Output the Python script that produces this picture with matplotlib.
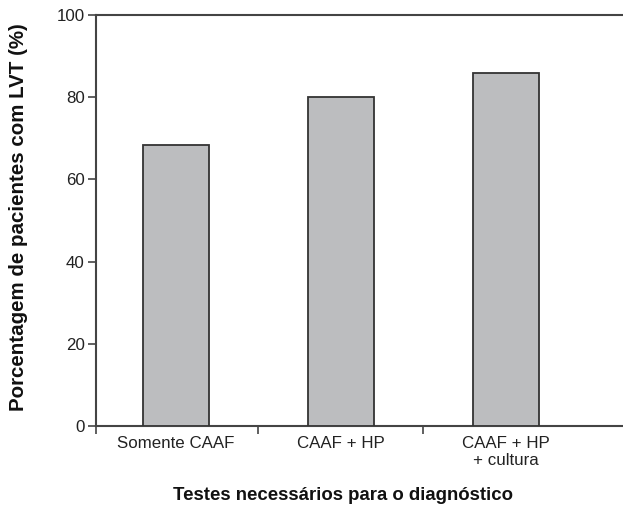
import matplotlib
matplotlib.use("Agg")
import matplotlib.pyplot as plt

categories = ["Somente CAAF", "CAAF + HP", "CAAF + HP\n+ cultura"]
values = [68.4, 80.0, 85.8]
yticks = [0, 20, 40, 60, 80, 100]

plt.rcParams['font.family'] = ['Liberation Sans', 'DejaVu Sans']

fig = plt.figure(figsize=(6.23, 5.12), dpi=100)
ax = fig.add_axes([0.154, 0.168, 0.846, 0.803])

x = list(range(len(categories)))
ax.bar(x, values, width=0.4, color="#bcbdbf", edgecolor="#333333", linewidth=1.3, zorder=3)

ax.set_xlim(-0.485, 2.71)
ax.set_ylim(0, 100)
ax.set_yticks(yticks)
ax.set_yticklabels([str(v) for v in yticks], fontsize=12.2, color="#222222")
ax.set_xticks([-0.485, 0.5, 1.5])
ax.set_xticklabels([])
ax.set_xticks(x, minor=True)
ax.set_xticklabels(categories, minor=True, fontsize=12.2, color="#222222", linespacing=1.15)
ax.tick_params(axis='x', which='minor', length=0, pad=7)
ax.tick_params(axis='x', which='major', length=6, width=1.2, color="#444444", direction='out')
ax.tick_params(axis='y', length=6, width=1.2, color="#444444", pad=2)

for s in ['left', 'bottom', 'top']:
    ax.spines[s].set_color("#444444")
    ax.spines[s].set_linewidth(1.5)
ax.spines['right'].set_visible(False)

fig.text(19 / 623, 1 - 217.5 / 512, "Porcentagem de pacientes com LVT (%)", rotation=90,
         fontsize=14.8, fontweight='bold', ha='center', va='center', color="#111111")
fig.text(343 / 623, 1 - 496 / 512, "Testes necessários para o diagnóstico",
         fontsize=13.4, fontweight='bold', ha='center', va='center', color="#111111")

fig.savefig("out.png", dpi=100)
